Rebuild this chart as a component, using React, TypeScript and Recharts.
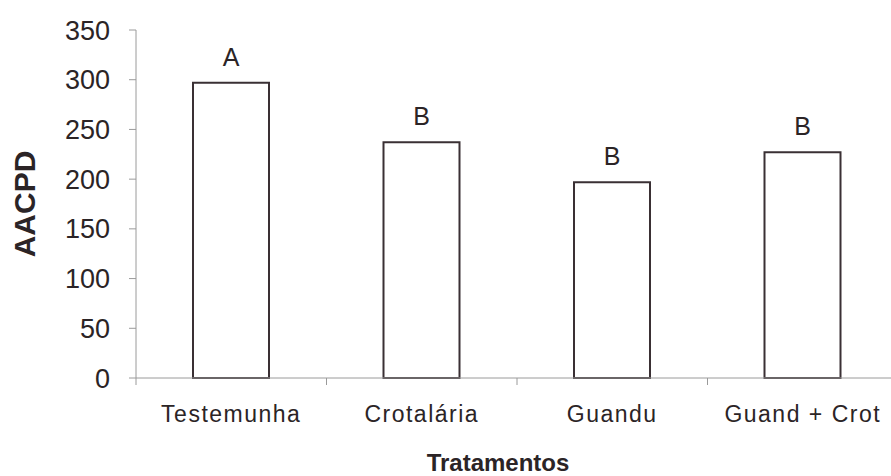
import { BarChart, Bar, XAxis, YAxis, LabelList } from 'recharts';

const tratamentos = ['Testemunha', 'Crotalária', 'Guandu', 'Guand + Crot'];
const aacpd = [297, 237, 197, 227];
const letras = ['A', 'B', 'B', 'B'];
const yTicks = [0, 50, 100, 150, 200, 250, 300, 350];

const data = tratamentos.map((t, i) => ({ name: t, value: aacpd[i], letra: letras[i] }));

const textColor = '#2b2426';
const axisColor = '#9a9a9a';
const labelGap = 28;

// category label plus tick marks at the slot boundaries
const CategoryTick = (props: any) => {
  const { x, y, payload, index, visibleTicksCount } = props;
  const half = payload && payload.offset ? payload.offset : 95.25;
  const axisY = y - labelGap;
  const isLast = index === (visibleTicksCount ?? 4) - 1;
  return (
    <g>
      <line x1={x - half} x2={x - half} y1={axisY} y2={axisY + 7} stroke={axisColor} />
      {isLast && <line x1={x + half} x2={x + half} y1={axisY} y2={axisY + 7} stroke={axisColor} />}
      <text x={x} y={y} dy="0.71em" textAnchor="middle" fill={textColor} fontSize={23} letterSpacing={1.5}>
        {payload.value}
      </text>
    </g>
  );
};

export default function App() {
  return (
    <div style={{ position: 'absolute', left: 0, top: 0, width: 891, height: 476, overflow: 'hidden', background: '#fff' }}>
      <BarChart
        width={900}
        height={476}
        data={data}
        margin={{ top: 30, right: 2, bottom: 0, left: 0 }}
        style={{ fontFamily: 'Liberation Sans, Arial, sans-serif' }}
      >
        <XAxis
          dataKey="name"
          height={98}
          axisLine={{ stroke: axisColor }}
          tickLine={false}
          tickSize={0}
          tickMargin={labelGap}
          interval={0}
          tick={<CategoryTick />}
          label={{
            value: 'Tratamentos',
            position: 'insideBottom',
            offset: 5,
            dx: -19,
            style: { fill: textColor, fontSize: 24, fontWeight: 'bold' },
          }}
        />
        <YAxis
          width={136}
          domain={[0, 350]}
          ticks={yTicks}
          interval={0}
          tickSize={7}
          tickMargin={19}
          stroke={axisColor}
          tick={{ fill: textColor, fontSize: 27 }}
          label={{
            value: 'AACPD',
            angle: -90,
            position: 'insideLeft',
            offset: 24,
            style: { fill: textColor, fontSize: 30, fontWeight: 'bold', textAnchor: 'middle' },
          }}
        />
        <Bar
          dataKey="value"
          barSize={76}
          fill="#ffffff"
          stroke="#3a3034"
          strokeWidth={2}
          isAnimationActive={false}
        >
          <LabelList dataKey="letra" position="top" offset={17} fill={textColor} fontSize={25} />
        </Bar>
      </BarChart>
    </div>
  );
}
